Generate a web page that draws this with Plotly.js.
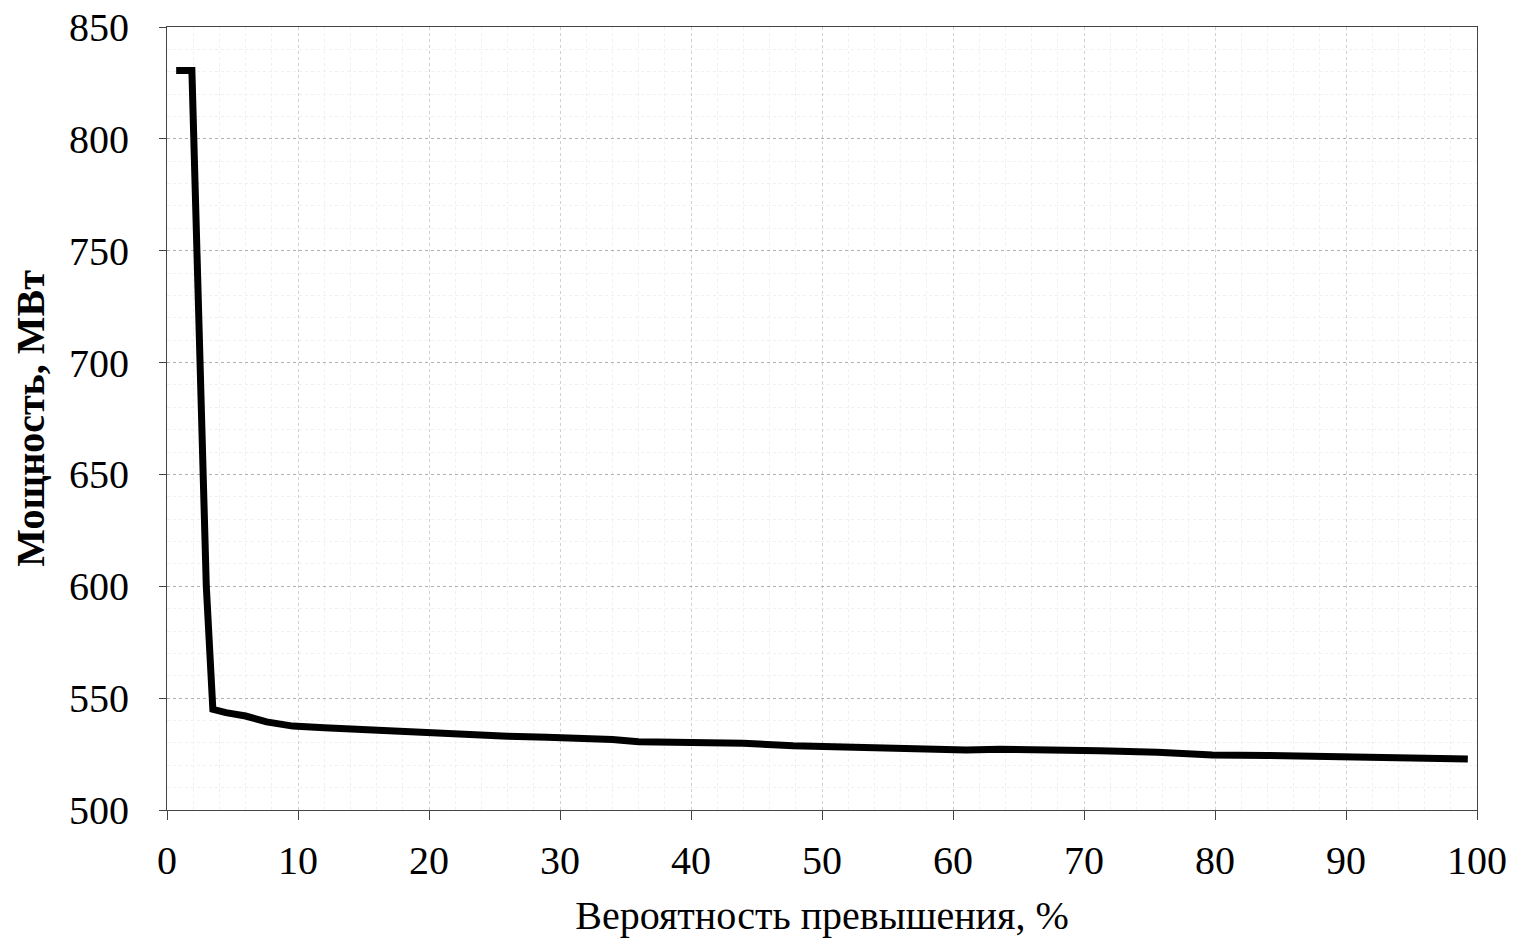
<!DOCTYPE html>
<html>
<head>
<meta charset="utf-8">
<script src="https://cdn.plot.ly/plotly-3.0.1.min.js"></script>
<style>html,body{margin:0;padding:0;background:#fff;}#chart{width:1524px;height:947px;}</style>
</head>
<body>
<div id="chart"></div>
<script>
// Exceedance probability, %
const probability = [0.7, 1.9, 3.0, 3.5, 4.5, 6, 7.6, 9.6, 12, 14, 16, 19, 21.6, 24, 26, 29, 32, 34, 36, 40, 44, 47.8, 52.4, 56, 61, 63.6, 67, 71.2, 75.6, 79.8, 84, 87, 90.5, 94.1, 96, 99.3];
// Power, MW
const power = [830.5, 830.5, 600, 545, 543.5, 542, 539.4, 537.5, 536.8, 536.2, 535.3, 535, 534.3, 533.2, 533, 532.5, 532, 531.5, 530.5, 530.2, 529.8, 528.7, 527.8, 527.6, 526.8, 527.1, 527, 526.5, 525.8, 524.6, 524.4, 524.1, 523.5, 522.8, 522.9, 522.8];

const xTicks = [0, 10, 20, 30, 40, 50, 60, 70, 80, 90, 100];
const yTicks = [500, 550, 600, 650, 700, 750, 800, 850];
const xTitle = 'Вероятность превышения, %';
const yTitle = 'Мощность, МВт';

const trace = {
  x: probability,
  y: power,
  type: 'scatter',
  mode: 'lines',
  line: {color: '#000', width: 7, shape: 'linear'},
  hoverinfo: 'x+y'
};

const fam = '"Liberation Serif", "Times New Roman", serif';

const layout = {
  width: 1524, height: 947,
  margin: {l: 167, r: 47, t: 27, b: 137},
  paper_bgcolor: '#fff', plot_bgcolor: '#fff',
  showlegend: false,
  font: {family: fam, color: '#000'},
  xaxis: {
    range: [0, 100],
    tickmode: 'array', tickvals: xTicks, ticktext: xTicks.map(String),
    ticks: 'outside', ticklen: 9, tickcolor: '#444', tickwidth: 1,
    ticklabelstandoff: 6,
    tickfont: {family: fam, size: 40, color: '#000'},
    showline: true, linecolor: '#444', linewidth: 1, mirror: true,
    showgrid: true, gridcolor: '#d0d0d0', griddash: 'dot', gridwidth: 1,
    zeroline: false,
    minor: {dtick: 2, showgrid: true, gridcolor: '#f0f0f0', griddash: 'dot', ticks: ''},
    automargin: false,
    title: {text: xTitle, font: {family: fam, size: 40, color: '#000'}, standoff: 18}
  },
  yaxis: {
    range: [500, 850],
    tickmode: 'array', tickvals: yTicks, ticktext: yTicks.map(String),
    ticks: 'outside', ticklen: 7, tickcolor: '#444', tickwidth: 1,
    ticklabelstandoff: 22,
    tickfont: {family: fam, size: 40, color: '#000'},
    showline: true, linecolor: '#444', linewidth: 1, mirror: true,
    showgrid: true, gridcolor: '#b0b0b0', griddash: 'dot', gridwidth: 1,
    zeroline: false,
    minor: {dtick: 10, showgrid: true, gridcolor: '#f0f0f0', griddash: 'dot', ticks: ''},
    automargin: false,
    title: {text: '<b>' + yTitle + '</b>', font: {family: fam, size: 40, color: '#000'}, standoff: 12}
  }
};

Plotly.newPlot('chart', [trace], layout, {displayModeBar: false, staticPlot: true});
</script>
</body>
</html>
